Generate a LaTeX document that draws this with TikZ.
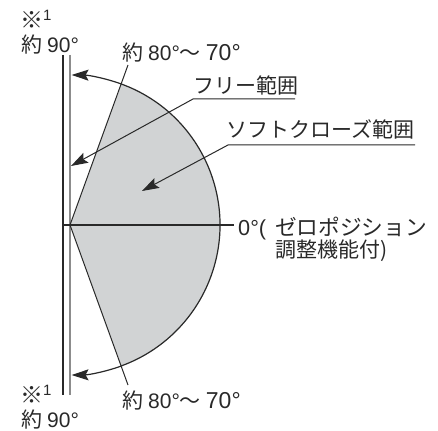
\documentclass[tikz,border=0pt]{standalone}
\usepackage{fontspec}
\setmainfont{Noto Sans CJK JP}
\newfontfamily\latfont{Liberation Sans}
\newcommand{\lat}[1]{{\latfont #1}}
\usetikzlibrary{arrows.meta}
\definecolor{ink}{gray}{0.16}
\definecolor{fillgrey}{RGB}{209,211,212}
\definecolor{wallgrey}{gray}{0.55}
\tikzset{
  lab/.style={inner sep=0pt,anchor=base west,text=ink,font=\fontsize{21}{24}\selectfont},
  leader/.style={draw=ink,line width=1pt},
  tip/.style={-{Stealth[length=17pt,width=11pt,inset=3pt]}},
}
\begin{document}
\begin{tikzpicture}[x=1pt,y=-1pt]
\useasboundingbox (0,0) rectangle (438,430);
\coordinate (P) at (70,225);
\coordinate (wallLT) at (63,55);
\coordinate (wallLB) at (63,395);
\coordinate (wallRT) at (70,55);
\coordinate (wallRB) at (70,395);
\coordinate (zeroEnd) at (234,225);
\coordinate (a1) at (121.3,84);
\coordinate (a2) at (121.3,366);
\coordinate (l1) at (128,65);
\coordinate (l2) at (128,385);
% sector
\fill[fillgrey] (P) -- (a1) arc[start angle=-70,end angle=70,radius=150] -- cycle;
% wall
\draw[wallgrey,line width=2.4pt] (wallRT) -- (wallRB);
\draw[ink,line width=1.2pt] (wallLT) -- (wallLB);
% arc
\draw[ink,line width=1.2pt] (a1) arc[start angle=-70,end angle=70,radius=150];
\draw[ink,line width=1.2pt,tip] (a1) arc[start angle=-70,end angle=-89.4,radius=150];
\draw[ink,line width=1.2pt,tip] (a2) arc[start angle=70,end angle=89.4,radius=150];
% radial
\draw[leader] (l1) -- (P) -- (l2);
\draw[ink,line width=1.2pt] (wallLB|-P) -- (zeroEnd);
% labels
\node[lab,font=\fontsize{23}{24}\selectfont] (n1) at (20,29) {※};
\node[lab,font=\fontsize{15}{16}\selectfont] (s1) at (43,21) {\lat{1}};
\node[lab] (t1) at (21,53) {約\hspace{5pt}\lat{90°}};
\node[lab] (t2) at (122,61) {約\hspace{5pt}\lat{80°}〜\hspace{5pt}{\fontsize{23}{24}\selectfont\lat{70°}}};
\node[lab] (t3) at (193,94) {フリー範囲};
\node[lab] (t4) at (226,138) {ソフトクローズ範囲};
\node[lab,font=\fontsize{21.7}{24}\selectfont] (t5) at (238,235) {\lat{0°(}\hspace{9pt}ゼロポジション};
\node[lab] (t6) at (275,257) {調整機能付)};
\node[lab,font=\fontsize{23}{24}\selectfont] (n2) at (20,403) {※};
\node[lab,font=\fontsize{15}{16}\selectfont] (s2) at (43,395) {\lat{1}};
\node[lab] (t7) at (21,427) {約\hspace{5pt}\lat{90°}};
\node[lab] (t8) at (122,408) {約\hspace{5pt}\lat{80°}〜\hspace{5pt}{\fontsize{23}{24}\selectfont\lat{70°}}};
% leaders
\coordinate (f0) at (295,99);
\coordinate (f1) at (193,99);
\coordinate (f2) at (71,166);
\coordinate (g0) at (415,145);
\coordinate (g1) at (228,145);
\coordinate (g2) at (142,191);
\draw[leader,tip] (f0) -- (f1) -- (f2);
\draw[leader,tip] (g0) -- (g1) -- (g2);
\end{tikzpicture}
\end{document}
